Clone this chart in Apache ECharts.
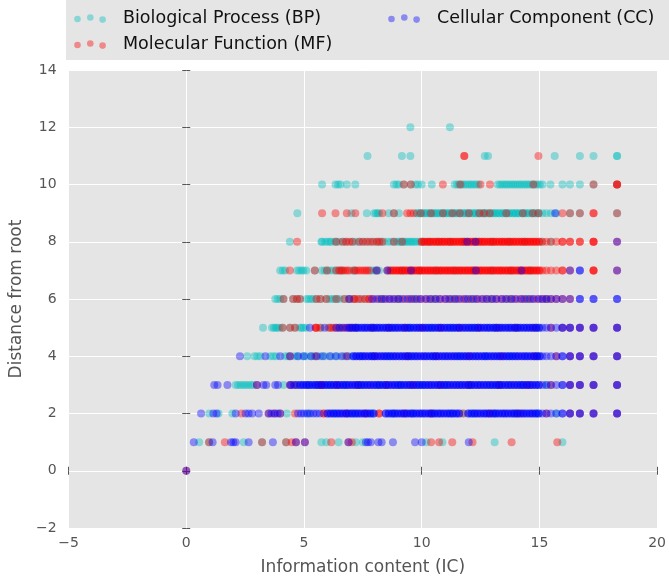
<!DOCTYPE html>
<html><head><meta charset="utf-8">
<script src="https://cdn.jsdelivr.net/npm/echarts@6/dist/echarts.min.js"></script>
<style>html,body{margin:0;padding:0;background:#fff}#c{width:669px;height:581px}</style>
</head><body><div id="c"></div><script>
const seriesNames = ['Biological Process (BP)', 'Molecular Function (MF)', 'Cellular Component (CC)'];
const xAxisTitle = 'Information content (IC)';
const yAxisTitle = 'Distance from root';

// Biological Process (BP): x values (IC) for each distance level
const bpY1 = [0.55, 0.97, 2.44, 3.22, 4.24, 5.74, 5.95, 6.47, 7.2, 7.5, 10.2, 10.88, 13.1, 15.98];
const bpY2 = [0.98, 1.37, 1.96, 4.27, 5.2, 6.3, 7.1, 7.9, 8.8, 9.6, 10.5, 11.3, 11.76, 12.2, 13.1, 14.0, 14.9, 15.72];
const bpY3 = [2.1, 2.2, 2.31, 2.42, 2.52, 2.63, 2.74, 2.84, 4.13, 4.7, 5.2, 5.55, 6.1, 6.7, 7.4, 8.2, 9.1, 10.0, 11.0, 12.1, 13.2, 14.3, 15.3];
const bpY4 = [2.59, 2.9, 3.02, 3.15, 3.57, 3.7, 3.82, 4.2, 4.32, 4.6, 4.72, 4.95, 5.1, 5.32, 5.45, 5.7, 5.9, 6.15, 6.4, 6.7, 7.0, 7.4, 7.9, 8.6, 9.5, 10.5, 11.6, 12.7, 13.8, 14.9];
const bpY5 = [3.26, 3.64, 3.72, 3.8, 3.87, 3.95, 4.09, 4.41, 4.62, 4.83, 4.9, 4.97, 5.08, 5.7, 6.1, 6.5, 7.2, 7.9, 8.7, 9.5, 10.4, 11.3, 12.2, 13.1, 14.0, 14.9];
const bpY6 = [3.78, 3.88, 3.99, 4.13, 4.54, 4.7, 4.83, 5.1, 5.2, 5.3, 5.39, 5.53, 5.7, 5.95, 6.09, 6.2, 6.3, 6.41, 6.51, 6.72, 6.9, 7.1, 7.35, 7.6, 8.3, 9.0, 9.7, 10.5, 11.3, 12.1, 12.9, 13.7, 14.5, 15.3];
const bpY7 = [3.99, 4.1, 4.2, 4.7, 4.8, 4.9, 4.98, 5.1, 5.46, 5.76, 5.88, 5.98, 6.1, 6.24, 6.37, 6.5, 6.64, 7.06, 7.14, 7.84, 7.95, 8.07, 8.19, 8.6, 9.2, 9.9, 10.6, 11.4, 12.2, 13.0, 13.8, 14.6];
const bpY8 = [4.40, 5.74, 5.77, 5.9, 6.0, 6.1, 6.16, 6.3, 6.37, 6.5, 6.65, 6.8, 7.06, 7.2, 7.35, 7.5, 7.7, 7.9, 8.1, 8.25, 8.4, 8.56, 8.7, 8.82, 8.95, 9.03, 9.1, 9.18, 9.26, 9.33, 9.41, 9.49, 9.57, 9.64, 9.73, 9.82, 9.92, 10.05, 10.3, 10.7, 11.2, 11.8, 12.4, 13.0, 13.7, 14.4, 15.1, 15.49];
const bpBand9 = [9.8, 9.93, 10.08, 10.21, 10.35, 10.5, 10.63, 10.77, 10.92, 11.05, 11.19, 11.34, 11.47, 11.61, 11.76, 11.89, 12.03, 12.18, 12.31, 12.45, 12.6, 12.73, 12.87, 13.02, 13.15, 13.29, 13.44, 13.57, 13.71, 13.86, 13.99, 14.13, 14.28, 14.41, 14.55, 14.7, 14.83, 14.97];
const bpY9 = [4.72, 7.02, 7.67, 7.98, 8.06, 8.13, 8.19, 8.6, 8.82, 9.03, ...bpBand9, ...bpBand9, 15.13, 15.3, 15.49, 15.72, 16.3, 16.72, 18.3];
const bpY10 = [5.77, 6.34, 6.45, 6.55, 6.82, 7.18, 8.82, 8.93, 9.03, 9.24, 9.54, 9.73, 9.84, 10.0, 10.43, 11.4, 11.5, 11.58, 11.68, 11.77, 11.86, 11.96, 12.05, 12.13, 12.23, 12.32, 12.41, 13.23, 13.33, 13.42, 13.52, 13.61, 13.7, 13.8, 13.89, 13.98, 14.08, 14.17, 14.26, 14.36, 14.45, 14.54, 14.64, 14.73, 14.82, 14.92, 15.02, 15.13, 15.47, 15.98, 16.3, 16.72, 17.3, 18.3];
const bpY11 = [7.7, 9.16, 9.52, 12.68, 12.82, 15.65, 16.72, 17.3, 18.3, 18.3];
const bpY12 = [9.52, 11.2];

// Molecular Function (MF)
const mfY0 = [0];
const mfY1 = [0.97, 1.64, 3.22, 4.24, 4.48, 4.66, 5.04, 6.16, 6.89, 7.03, 10.4, 10.74, 11.3, 12.16, 13.82, 15.76];
const mfY2 = [2.35, 3.5, 3.75, 3.99, 4.62, 5.84, 5.84, 6.8, 7.6, 8.19, 8.19, 9.3, 10.4, 11.76, 12.9, 14.1, 15.3, 16.3, 16.72, 17.3, 18.3];
const mfY3 = [3.0, 4.41, 4.62, 5.7, 5.75, 6.4, 7.3, 8.5, 9.6, 10.8, 12.0, 13.3, 14.5, 15.49, 16.3, 16.72, 17.3, 18.3];
const mfY4 = [4.41, 5.5, 6.8, 8.0, 9.4, 10.6, 12.0, 13.4, 14.8, 15.72, 16.3, 16.72, 17.3, 18.3];
const mfY5 = [4.09, 4.41, 4.62, 5.5, 5.5, 5.53, 5.7, 6.05, 6.16, 6.25, 6.37, 6.55, 6.7, 6.85, 7.0, 7.2, 7.9, 8.6, 9.3, 10.0, 10.8, 11.6, 12.4, 13.2, 14.0, 14.8, 15.49, 15.98, 16.3, 16.72, 17.3, 18.3];
const mfY6 = [4.13, 4.54, 4.7, 4.83, 5.53, 5.7, 5.95, 6.37, 6.72, 6.93, 7.14, 7.14, 7.3, 7.45, 7.6, 7.77, 7.77, 7.95, 8.2, 8.4, 8.62, 8.85, 9.05, 9.28, 9.5, 9.7, 9.93, 10.15, 10.36, 10.58, 10.8, 11.02, 11.23, 11.45, 11.67, 11.88, 12.1, 12.32, 12.53, 12.75, 12.97, 13.18, 13.4, 13.62, 13.83, 14.05, 14.27, 14.48, 14.7, 14.92, 15.13, 15.3, 15.49, 15.72, 15.98, 16.3];
const mfBand7 = [8.68, 8.8, 8.93, 9.05, 9.16, 9.29, 9.41, 9.53, 9.65, 9.78, 9.9, 10.01, 10.14, 10.26, 10.38, 10.5, 10.63, 10.75, 10.86, 10.99, 11.11, 11.23, 11.35, 11.48, 11.6, 11.71, 11.84, 11.96, 12.08, 12.2, 12.33, 12.45, 12.56, 12.69, 12.81, 12.93, 13.05, 13.18, 13.3, 13.41, 13.54, 13.66, 13.78, 13.9, 14.03, 14.15, 14.26, 14.39, 14.51, 14.63, 14.75, 14.88, 15.0];
const mfY7 = [4.4, 5.46, 5.98, 6.37, 6.5, 6.57, 6.64, 6.75, 6.84, 6.93, 7.14, 7.2, 7.3, 7.4, 7.5, 7.6, 7.68, 7.77, 8.09, 8.54,
  ...mfBand7, ...mfBand7, 15.13, 15.3, 15.49, 15.72, 15.98, 15.98, 16.3, 17.3, 17.3, 17.3, 18.3];
const mfBand8 = [10.0, 10.12, 10.25, 10.37, 10.49, 10.61, 10.74, 10.86, 10.97, 11.1, 11.22, 11.34, 11.46, 11.59, 11.71, 11.82, 11.95, 12.07, 12.19, 12.31, 12.44, 12.56, 12.67, 12.8, 12.92, 13.04, 13.16, 13.29, 13.41, 13.52, 13.65, 13.77, 13.89, 14.01, 14.14, 14.26, 14.37, 14.5, 14.62, 14.74, 14.86, 14.99];
const mfY8 = [4.71, 6.37, 6.65, 6.79, 6.93, 7.06, 7.35, 7.5, 7.65, 7.8, 7.95, 8.1, 8.2, 8.33, 8.82, 9.17,
  ...mfBand8, ...mfBand8, 15.13, 15.3, 15.49, 15.72, 15.98, 15.98, 16.3, 16.3, 16.72, 16.72, 17.3, 17.3, 17.3, 18.3];
const mfY9 = [5.77, 6.34, 6.82, 7.18, 8.33, 8.82, 9.38, 9.52, 9.66, 9.97, 10.4, 10.9, 11.3, 11.62, 12.0, 12.45, 12.65, 12.9, 13.6, 14.3, 14.72, 14.96, 15.98, 16.3, 16.72, 17.3, 17.3, 18.3];
const mfY10 = [9.24, 9.54, 10.9, 11.64, 12.5, 12.9, 14.75, 17.3, 18.3, 18.3, 18.3];
const mfY11 = [11.81, 11.81, 14.96];

// Cellular Component (CC)
const ccTail = [15.13, 15.3, 15.49, 15.72, 15.98, 15.98, 16.3, 16.3, 16.72, 16.72, 17.3, 17.3, 18.3, 18.3];
const ccY0 = [0];
const ccY1 = [0.32, 1.12, 1.9, 2.0, 2.1, 2.65, 3.68, 4.66, 5.04, 6.89, 7.63, 7.72, 7.84, 8.16, 8.3, 8.78, 9.72, 10.0, 12.0];
const ccBand2 = [6.0, 6.13, 6.26, 6.4, 6.52, 6.65, 6.79, 6.91, 7.04, 7.18, 7.3, 7.43, 7.57, 7.69, 7.82, 7.96, 8.47, 8.6, 8.74, 8.86, 8.99, 9.13, 9.25, 9.38, 9.52, 9.64, 9.77, 9.91, 10.03, 10.16, 10.3, 10.42, 10.55, 10.69, 10.81, 10.94, 11.08, 11.2, 11.33, 11.47, 11.59, 11.98, 12.11, 12.25, 12.37, 12.5, 12.64, 12.76, 12.89, 13.03, 13.15, 13.28, 13.42, 13.54, 13.67, 13.81, 13.93, 14.06, 14.2, 14.32, 14.45, 14.59, 14.71, 14.84, 14.97];
const ccY2 = [0.63, 1.15, 1.29, 2.1, 2.52, 2.65, 2.8, 3.08, 3.5, 3.62, 3.75, 3.88, 3.99, 4.75, 4.88, 5.0, 5.13, 5.26, 5.4, 5.53, 5.67,
  ...ccBand2, ...ccBand2, ...ccTail];
const ccBand3 = [4.84, 4.97, 5.1, 5.22, 5.36, 5.49, 5.61, 5.75, 5.88, 6.0, 6.14, 6.27, 6.4, 6.52, 6.66, 6.79, 6.91, 7.05, 7.18, 7.3, 7.44, 7.57, 7.7, 7.82, 7.96, 8.09, 8.21, 8.35, 8.48, 8.6, 8.74, 8.87, 9.0, 9.12, 9.26, 9.39, 9.51, 9.65, 9.78, 9.9, 10.04, 10.17, 10.3, 10.42, 10.56, 10.69, 10.81, 10.95, 11.08, 11.2, 11.34, 11.47, 11.6, 11.72, 11.86, 11.99, 12.11, 12.25, 12.38, 12.5, 12.64, 12.77, 12.9, 13.02, 13.16, 13.29, 13.41, 13.55, 13.68, 13.8, 13.94, 14.07, 14.2, 14.32, 14.46, 14.59, 14.71, 14.85, 14.98];
const ccY3 = [1.19, 1.33, 1.75, 3.0, 3.28, 3.4, 3.78, 3.9, 4.41, 4.45, 4.58, 4.7,
  ...ccBand3, ...ccBand3, ...ccTail];
const ccBand4 = [7.1, 7.22, 7.36, 7.49, 7.61, 7.75, 7.88, 8.0, 8.13, 8.27, 8.4, 8.52, 8.66, 8.79, 8.91, 9.05, 9.18, 9.31, 9.43, 9.57, 9.7, 9.82, 9.96, 10.09, 10.21, 10.35, 10.48, 10.61, 10.73, 10.87, 11.0, 11.12, 11.26, 11.39, 11.51, 11.65, 11.78, 11.9, 12.04, 12.17, 12.3, 12.42, 12.56, 12.69, 12.81, 12.95, 13.08, 13.21, 13.33, 13.47, 13.6, 13.72, 13.86, 13.99, 14.11, 14.25, 14.38, 14.5, 14.64, 14.77, 14.9, 15.01];
const ccY4 = [2.28, 3.36, 3.99, 4.41, 4.75, 5.0, 5.3, 5.55, 5.8, 6.1, 6.35, 6.6, 6.85,
  ...ccBand4, ...ccBand4, ...ccTail];
const ccBand5 = [6.93, 7.06, 7.19, 7.31, 7.45, 7.58, 7.7, 7.84, 7.97, 8.1, 8.22, 8.36, 8.49, 8.61, 8.75, 8.88, 9.0, 9.14, 9.27, 9.4, 9.52, 9.66, 9.79, 9.91, 10.05, 10.18, 10.3, 10.44, 10.57, 10.7, 10.82, 10.96, 11.09, 11.21, 11.35, 11.48, 11.6, 11.74, 11.87, 12.0, 12.12, 12.26, 12.39, 12.51, 12.65, 12.78, 12.9, 13.04, 13.17, 13.3, 13.42, 13.56, 13.69, 13.81, 13.95, 14.08, 14.2, 14.34, 14.47, 14.6, 14.72, 14.86, 14.99];
const ccY5 = [5.25, 5.88, 6.37, 6.5, 6.65, 6.8,
  ...ccBand5, ...ccBand5, ...ccTail];
const ccY6 = [6.93, 7.9, 8.1, 8.3, 8.47, 8.65, 8.8, 9.0, 9.18, 9.4, 9.58, 9.8, 9.97, 10.2, 10.38, 10.6, 10.77, 11.0, 11.17, 11.4, 11.57, 11.8, 11.97, 12.2, 12.37, 12.6, 12.77, 13.0, 13.17, 13.4, 13.57, 13.8, 13.97, 14.2, 14.37, 14.6, 14.77, 14.98,
  15.13, 15.3, 15.49, 15.72, 15.98, 16.3, 16.72, 16.72, 17.3, 17.3, 18.3, 18.3];
const ccY7 = [8.09, 8.54, 9.55, 12.3, 14.24, 16.3, 16.72, 16.72, 18.3];
const ccY8 = [11.93, 12.28, 18.3];
const ccY9 = [15.67];

function toPoints(rows) {
  const out = [];
  rows.forEach(function (r) { r[1].forEach(function (x) { out.push([x, r[0]]); }); });
  return out;
}
const bpData = toPoints([[1, bpY1], [2, bpY2], [3, bpY3], [4, bpY4], [5, bpY5], [6, bpY6], [7, bpY7], [8, bpY8], [9, bpY9], [10, bpY10], [11, bpY11], [12, bpY12]]);
const mfData = toPoints([[0, mfY0], [1, mfY1], [2, mfY2], [3, mfY3], [4, mfY4], [5, mfY5], [6, mfY6], [7, mfY7], [8, mfY8], [9, mfY9], [10, mfY10], [11, mfY11]]);
const ccData = toPoints([[0, ccY0], [1, ccY1], [2, ccY2], [3, ccY3], [4, ccY4], [5, ccY5], [6, ccY6], [7, ccY7], [8, ccY8], [9, ccY9]]);

const FONT = 'DejaVu Sans';
const minusFmt = function (v) { return String(v).replace('-', '\u2212'); };
const legendIcon = 'path://M0 0h0.05v0.05h-0.05z M43.95 9.95h0.05v0.05h-0.05z M0.2 6a3.3 3.3 0 1 0 6.6 0a3.3 3.3 0 1 0 -6.6 0z M13 4.5a3.3 3.3 0 1 0 6.6 0a3.3 3.3 0 1 0 -6.6 0z M25.3 6.6a3.3 3.3 0 1 0 6.6 0a3.3 3.3 0 1 0 -6.6 0z';
const legendText = {fontSize: 17.5, color: '#111', lineHeight: 20, fontFamily: FONT};
const tickStyle = {show: true, inside: false, length: 4, lineStyle: {color: '#555', width: 1}};

function scatter(name, data, color) {
  return {name: name, type: 'scatter', data: data, symbolSize: 8, itemStyle: {color: color},
    emphasis: {disabled: true}, silent: true, progressive: 0, large: false, xAxisIndex: 0, yAxisIndex: 0};
}

const chart = echarts.init(document.getElementById('c'));
chart.setOption({
  animation: false,
  textStyle: {fontFamily: FONT},
  graphic: [{type: 'rect', silent: true, z: -10, shape: {x: 66, y: 0, width: 603, height: 60}, style: {fill: '#e5e5e5'}}],
  legend: [
    {data: [seriesNames[0], seriesNames[1]], orient: 'vertical', left: 74, top: 8, itemGap: 6, itemWidth: 44, itemHeight: 10,
     icon: legendIcon, selectedMode: false, textStyle: legendText, padding: 0},
    {data: [seriesNames[2]], orient: 'vertical', left: 388, top: 8, itemGap: 6, itemWidth: 44, itemHeight: 10,
     icon: legendIcon, selectedMode: false, textStyle: legendText, padding: 0}
  ],
  grid: {left: 66, right: 8, top: 70, bottom: 49, show: true, backgroundColor: '#e5e5e5', borderWidth: 0, containLabel: false},
  xAxis: [
    {type: 'value', min: -5, max: 20, interval: 5, axisLine: {show: false}, axisTick: tickStyle,
     splitLine: {show: true, lineStyle: {color: '#ffffff', width: 1}},
     axisLabel: {color: '#555', fontSize: 14, margin: 8, formatter: minusFmt, showMinLabel: true, showMaxLabel: true, fontFamily: FONT},
     name: xAxisTitle, nameLocation: 'middle', nameGap: 31, nameTextStyle: {color: '#555', fontSize: 17, fontFamily: FONT}},
    {type: 'value', position: 'top', min: -5, max: 20, interval: 5, axisLine: {show: false}, axisTick: tickStyle,
     splitLine: {show: false}, axisLabel: {show: false}}
  ],
  yAxis: [
    {type: 'value', min: -2, max: 14, interval: 2, axisLine: {show: false}, axisTick: tickStyle,
     splitLine: {show: true, lineStyle: {color: '#ffffff', width: 1}},
     axisLabel: {color: '#555', fontSize: 14, margin: 12, formatter: minusFmt, showMinLabel: true, showMaxLabel: true, fontFamily: FONT},
     name: yAxisTitle, nameLocation: 'middle', nameGap: 38, nameTextStyle: {color: '#555', fontSize: 17, fontFamily: FONT}},
    {type: 'value', position: 'right', min: -2, max: 14, interval: 2, axisLine: {show: false}, axisTick: tickStyle,
     splitLine: {show: false}, axisLabel: {show: false}}
  ],
  series: [
    scatter(seriesNames[0], bpData, 'rgba(0,191,191,0.5)'),
    scatter(seriesNames[1], mfData, 'rgba(255,0,0,0.5)'),
    scatter(seriesNames[2], ccData, 'rgba(0,0,255,0.5)')
  ]
});
</script></body></html>
